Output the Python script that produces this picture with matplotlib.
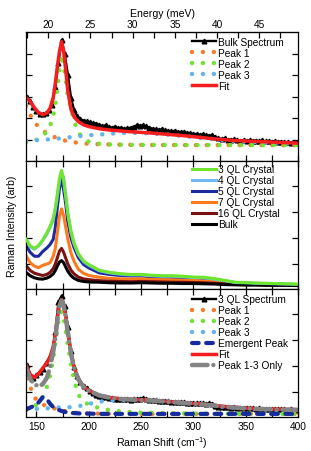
import numpy as np
import matplotlib
matplotlib.use('Agg')
import matplotlib.pyplot as plt
from matplotlib.ticker import MultipleLocator

plt.rcParams['font.family'] = ['Liberation Sans', 'DejaVu Sans']
plt.rcParams['mathtext.default'] = 'regular'
plt.rcParams['font.size'] = 7.3

# ---- data (Raman shift in cm^-1) ----
x_spec = np.arange(141, 400, 3)
x_fit = [140, 144, 148, 152, 156, 160, 163, 166, 168, 170, 172, 174, 176, 178, 180, 183, 186, 190, 195, 200,
         210, 220, 230, 240, 250, 260, 270, 280, 290, 300, 310, 320, 330, 340, 350, 360, 370, 380, 390, 400]

# top panel: bulk
bulk_spectrum = [2.98, 2.78, 2.50, 2.33, 2.20, 2.17, 2.22, 2.36, 2.62, 3.45, 4.55, 5.62, 4.98, 4.02, 2.95, 2.35,
                 2.08, 1.95, 1.88, 1.85, 1.80, 1.76, 1.74, 1.68, 1.62, 1.66, 1.58, 1.55, 1.60, 1.52, 1.55, 1.50,
                 1.52, 1.55, 1.60, 1.66, 1.64, 1.66, 1.62, 1.55, 1.50, 1.48, 1.45, 1.47, 1.42, 1.40, 1.38, 1.40,
                 1.35, 1.33, 1.36, 1.30, 1.28, 1.27, 1.25, 1.22, 1.24, 1.20, 1.18, 1.20, 1.12, 1.05, 1.03, 1.06,
                 1.00, 0.98, 1.02, 0.97, 0.95, 0.98, 0.94, 0.97, 0.93, 0.95, 0.92, 0.96, 0.91, 0.93, 0.90, 0.92,
                 0.89, 0.90, 0.87, 0.89, 0.86, 0.88, 0.85]
bulk_fit = [2.96, 2.77, 2.48, 2.25, 2.15, 2.24, 2.45, 2.95, 3.60, 4.40, 5.10, 5.55, 5.10, 4.20, 3.25, 2.40, 2.05,
            1.83, 1.68, 1.60, 1.50, 1.44, 1.40, 1.36, 1.33, 1.30, 1.26, 1.22, 1.18, 1.13, 1.08, 1.03, 0.99, 0.95,
            0.93, 0.91, 0.89, 0.87, 0.85, 0.83]
bulk_peak1 = [2.56, 2.15, 1.82, 1.58, 1.42, 1.28, 1.20, 1.14, 1.10, 1.06, 1.03, 1.00, 0.97, 0.94, 0.92, 0.89, 0.87,
              0.85, 0.82, 0.80, 0.78, 0.77, 0.76, 0.755, 0.75, 0.745, 0.745, 0.745, 0.74, 0.74, 0.74, 0.74, 0.74,
              0.74, 0.74, 0.74, 0.74, 0.74, 0.74, 0.74]
bulk_peak2 = [0.86, 0.90, 0.95, 1.02, 1.15, 1.38, 1.62, 2.10, 2.60, 3.40, 4.30, 4.95, 4.45, 3.75, 3.00, 2.45, 1.85,
              1.33, 1.05, 0.90, 0.80, 0.77, 0.76, 0.75, 0.75, 0.745, 0.745, 0.745, 0.74, 0.74, 0.74, 0.74, 0.74,
              0.74, 0.74, 0.74, 0.74, 0.74, 0.74, 0.74]
bulk_peak3 = [0.95, 0.95, 0.96, 0.97, 0.98, 1.00, 1.01, 1.02, 1.03, 1.04, 1.05, 1.06, 1.07, 1.08, 1.09, 1.11, 1.13,
              1.15, 1.18, 1.20, 1.23, 1.27, 1.30, 1.31, 1.30, 1.28, 1.25, 1.21, 1.16, 1.11, 1.06, 1.01, 0.97, 0.93,
              0.90, 0.88, 0.86, 0.85, 0.84, 0.83]

# middle panel: thickness series
ql3 = [1.96, 1.70, 1.60, 1.72, 1.93, 2.20, 2.45, 2.75, 3.15, 3.70, 4.30, 4.60, 4.20, 3.60, 2.95, 2.25, 1.80, 1.40,
       1.12, 0.98, 0.76, 0.68, 0.63, 0.60, 0.60, 0.57, 0.55, 0.55, 0.53, 0.50, 0.49, 0.44, 0.37, 0.30, 0.29, 0.27,
       0.26, 0.25, 0.24, 0.23]
ql4 = [1.93, 1.67, 1.57, 1.69, 1.90, 2.16, 2.41, 2.70, 3.08, 3.60, 4.20, 4.52, 4.33, 3.62, 2.95, 2.22, 1.77, 1.37,
       1.09, 0.95, 0.74, 0.66, 0.61, 0.58, 0.58, 0.55, 0.53, 0.53, 0.51, 0.48, 0.47, 0.42, 0.36, 0.29, 0.28, 0.26,
       0.25, 0.24, 0.23, 0.22]
ql5 = [1.71, 1.45, 1.30, 1.30, 1.48, 1.62, 1.75, 1.95, 2.40, 3.20, 3.90, 4.30, 3.85, 3.30, 2.60, 2.00, 1.62, 1.25,
       0.98, 0.85, 0.66, 0.60, 0.56, 0.54, 0.54, 0.51, 0.49, 0.49, 0.47, 0.45, 0.43, 0.39, 0.33, 0.27, 0.26, 0.24,
       0.23, 0.22, 0.21, 0.20]
ql7 = [1.32, 1.05, 0.92, 0.86, 0.95, 1.00, 1.05, 1.30, 1.60, 2.20, 2.85, 3.12, 2.85, 2.40, 1.95, 1.42, 1.10, 0.80,
       0.64, 0.56, 0.49, 0.45, 0.43, 0.42, 0.43, 0.41, 0.40, 0.39, 0.38, 0.37, 0.35, 0.33, 0.30, 0.26, 0.25, 0.24,
       0.23, 0.22, 0.21, 0.20]
ql16 = [0.94, 0.75, 0.65, 0.60, 0.56, 0.60, 0.68, 0.82, 1.00, 1.25, 1.50, 1.60, 1.45, 1.22, 1.00, 0.76, 0.62, 0.50,
        0.43, 0.40, 0.36, 0.34, 0.33, 0.32, 0.33, 0.32, 0.31, 0.30, 0.30, 0.29, 0.28, 0.26, 0.24, 0.22, 0.21, 0.21,
        0.20, 0.20, 0.19, 0.19]
ql_bulk = [0.68, 0.55, 0.47, 0.43, 0.42, 0.46, 0.52, 0.62, 0.75, 0.92, 1.08, 1.13, 1.05, 0.88, 0.72, 0.55, 0.45,
           0.37, 0.33, 0.31, 0.30, 0.28, 0.27, 0.27, 0.28, 0.27, 0.26, 0.26, 0.25, 0.25, 0.24, 0.23, 0.21, 0.20,
           0.19, 0.19, 0.18, 0.18, 0.18, 0.17]

# bottom panel: 3 QL
ql3_spectrum = [2.05, 1.62, 1.55, 1.65, 1.78, 1.88, 2.10, 2.30, 2.52, 3.30, 4.45, 4.70, 4.30, 3.50, 2.58, 1.98,
                1.62, 1.40, 1.25, 1.14, 1.04, 0.95, 0.88, 0.86, 0.82, 0.80, 0.78, 0.76, 0.75, 0.73, 0.74, 0.72,
                0.73, 0.71, 0.72, 0.72, 0.75, 0.76, 0.72, 0.70, 0.68, 0.69, 0.66, 0.67, 0.64, 0.65, 0.62, 0.63,
                0.61, 0.60, 0.61, 0.58, 0.59, 0.57, 0.58, 0.56, 0.57, 0.55, 0.56, 0.55, 0.48, 0.43, 0.42, 0.41,
                0.42, 0.40, 0.41, 0.39, 0.40, 0.38, 0.39, 0.37, 0.38, 0.36, 0.37, 0.35, 0.36, 0.35, 0.34, 0.35,
                0.33, 0.34, 0.33, 0.32, 0.33, 0.32, 0.31]
ql3_fit = [2.05, 1.68, 1.56, 1.70, 1.92, 2.12, 2.35, 2.75, 3.20, 3.85, 4.35, 4.55, 4.35, 3.90, 3.30, 2.50, 1.95,
           1.50, 1.22, 1.06, 0.88, 0.79, 0.74, 0.72, 0.70, 0.68, 0.65, 0.62, 0.59, 0.56, 0.53, 0.49, 0.44, 0.41,
           0.38, 0.36, 0.35, 0.34, 0.33, 0.32]
ql3_peak13 = [1.95, 1.50, 1.30, 1.22, 1.30, 1.55, 1.95, 2.55, 3.05, 3.75, 4.30, 4.52, 4.32, 3.87, 3.28, 2.48, 1.93,
              1.48, 1.20, 1.05, 0.87, 0.78, 0.73, 0.71, 0.69, 0.67, 0.64, 0.61, 0.58, 0.55, 0.52, 0.48, 0.43,
              0.40, 0.37, 0.35, 0.34, 0.33, 0.32, 0.31]
ql3_peak1 = [1.50, 1.20, 0.80, 0.62, 0.52, 0.46, 0.42, 0.38, 0.36, 0.34, 0.32, 0.30, 0.28, 0.26, 0.24, 0.22, 0.21,
             0.20, 0.19, 0.18, 0.17, 0.16, 0.16, 0.16, 0.16, 0.16, 0.16, 0.16, 0.16, 0.16, 0.16, 0.16, 0.16, 0.16,
             0.16, 0.16, 0.16, 0.16, 0.16, 0.16]
ql3_peak2 = [0.30, 0.36, 0.45, 0.58, 0.82, 1.20, 1.62, 2.30, 2.85, 3.50, 3.95, 4.10, 3.85, 3.35, 2.80, 2.10, 1.45,
             0.90, 0.63, 0.52, 0.38, 0.30, 0.26, 0.23, 0.21, 0.20, 0.19, 0.18, 0.18, 0.17, 0.17, 0.17, 0.17, 0.16,
             0.16, 0.16, 0.16, 0.16, 0.16, 0.16]
ql3_peak3 = [0.41, 0.38, 0.36, 0.35, 0.36, 0.37, 0.38, 0.39, 0.40, 0.40, 0.41, 0.41, 0.41, 0.41, 0.41, 0.42, 0.43,
             0.45, 0.50, 0.54, 0.63, 0.67, 0.69, 0.70, 0.69, 0.68, 0.67, 0.63, 0.59, 0.56, 0.52, 0.48, 0.43, 0.40,
             0.37, 0.35, 0.32, 0.30, 0.29, 0.28]
ql3_emergent = [0.33, 0.40, 0.48, 0.60, 0.80, 0.72, 0.55, 0.42, 0.37, 0.33, 0.30, 0.27, 0.25, 0.23, 0.21, 0.20,
                0.19, 0.18, 0.17, 0.17, 0.16, 0.16, 0.16, 0.16, 0.16, 0.16, 0.16, 0.16, 0.16, 0.16, 0.16, 0.16,
                0.16, 0.16, 0.16, 0.16, 0.16, 0.16, 0.16, 0.16]

c_orange = '#f47c2a'
c_green = '#6ee332'
c_lblue = '#62b3ee'
c_navy = '#172c9c'
c_red = '#f51d1d'
c_gray = '#848484'

dot = dict(linestyle=(0, (0.01, 2.45)), dash_capstyle='round', lw=3.2)

fig = plt.figure(figsize=(3.11, 4.52), dpi=100)
W = 311.0
H = 452.0
left = 26 / W
width = 272 / W
ax1 = fig.add_axes([left, (H - 162) / H, width, 129 / H])
ax2 = fig.add_axes([left, (H - 290) / H, width, 128 / H])
ax3 = fig.add_axes([left, (H - 418) / H, width, 128 / H])

# top
ax1.plot(x_spec, bulk_spectrum, color='k', lw=1.7, marker='^', ms=3.4, label='Bulk Spectrum')
ax1.plot(x_fit, bulk_peak1, color=c_orange, label='Peak 1', **dot)
ax1.plot(x_fit, bulk_peak2, color=c_green, label='Peak 2', **dot)
ax1.plot(x_fit, bulk_peak3, color=c_lblue, label='Peak 3', **dot)
ax1.plot(x_fit, bulk_fit, color=c_red, lw=2.5, label='Fit')
ax1.set_ylim(0, 6)
ax1.set_yticks([1, 2, 3, 4, 5])

# middle
ax2.plot(x_fit, ql3, color='#6ee62e', lw=2.2, label='3 QL Crystal', zorder=3)
ax2.plot(x_fit, ql4, color='#6fb8f2', lw=2.2, label='4 QL Crystal', zorder=2.5)
ax2.plot(x_fit, ql5, color='#1c2a9e', lw=2.2, label='5 QL Crystal')
ax2.plot(x_fit, ql7, color='#ff7a1c', lw=2.2, label='7 QL Crystal')
ax2.plot(x_fit, ql16, color='#7a1212', lw=2.2, label='16 QL Crystal')
ax2.plot(x_fit, ql_bulk, color='k', lw=2.2, label='Bulk')
ax2.set_ylim(0.04, 4.96)
ax2.set_yticks([1, 2, 3, 4])

# bottom
ax3.plot(x_spec, ql3_spectrum, color='k', lw=1.7, marker='^', ms=3.4, label='3 QL Spectrum')
ax3.plot(x_fit, ql3_peak1, color=c_orange, label='Peak 1', **dot)
ax3.plot(x_fit, ql3_peak2, color=c_green, label='Peak 2', **dot)
ax3.plot(x_fit, ql3_peak3, color=c_lblue, label='Peak 3', **dot)
ax3.plot(x_fit, ql3_emergent, color=c_navy, lw=3, linestyle=(0, (1.6, 1.8)), dash_capstyle='round',
         label='Emergent Peak')
ax3.plot(x_fit, ql3_fit, color=c_red, lw=2.5, label='Fit')
ax3.plot(x_fit, ql3_peak13, color=c_gray, lw=3.2, linestyle=(0, (3.5, 1.3, 0.01, 1.3)),
         dash_capstyle='round', label='Peak 1-3 Only')
ax3.set_ylim(0.04, 4.96)
ax3.set_yticks([1, 2, 3, 4])

for ax in (ax1, ax2, ax3):
    ax.set_xlim(140, 400)
    ax.xaxis.set_major_locator(MultipleLocator(50))
    ax.xaxis.set_minor_locator(MultipleLocator(25))
    ax.tick_params(which='both', direction='in', left=True, right=True, bottom=True, top=True,
                   labelleft=False, labelbottom=False, width=0.9)
    ax.tick_params(which='major', length=4)
    ax.tick_params(which='minor', length=4)
    for s in ax.spines.values():
        s.set_linewidth(0.9)

ax1.tick_params(which='both', top=False)
ax3.tick_params(which='major', labelbottom=True, pad=3)
ax3.set_xlabel('Raman Shift (cm$^{-1}$)', fontsize=7.6, labelpad=2)

sec = ax1.secondary_xaxis('top', functions=(lambda v: v / 8.0655, lambda v: v * 8.0655))
sec.xaxis.set_major_locator(MultipleLocator(5))
sec.xaxis.set_minor_locator(MultipleLocator(2.5))
sec.tick_params(which='both', direction='in', length=4, width=0.9, pad=2)
sec.set_xlabel('Energy (meV)', fontsize=7.6, labelpad=2)

fig.text(12 / W, 1 - 226 / H, 'Raman Intensity (arb)', rotation=90, ha='center', va='center', fontsize=7.6)

leg_kw = dict(loc='upper left', frameon=False, borderpad=0, borderaxespad=0, handlelength=2.3,
              handletextpad=0.2, labelspacing=0.1, fontsize=7.3)
ax1.legend(bbox_to_anchor=(0.612, 0.965), **leg_kw)
ax2.legend(bbox_to_anchor=(0.612, 0.975), **leg_kw)
ax3.legend(bbox_to_anchor=(0.612, 0.96), **leg_kw)

fig.savefig('out.png', dpi=100)
